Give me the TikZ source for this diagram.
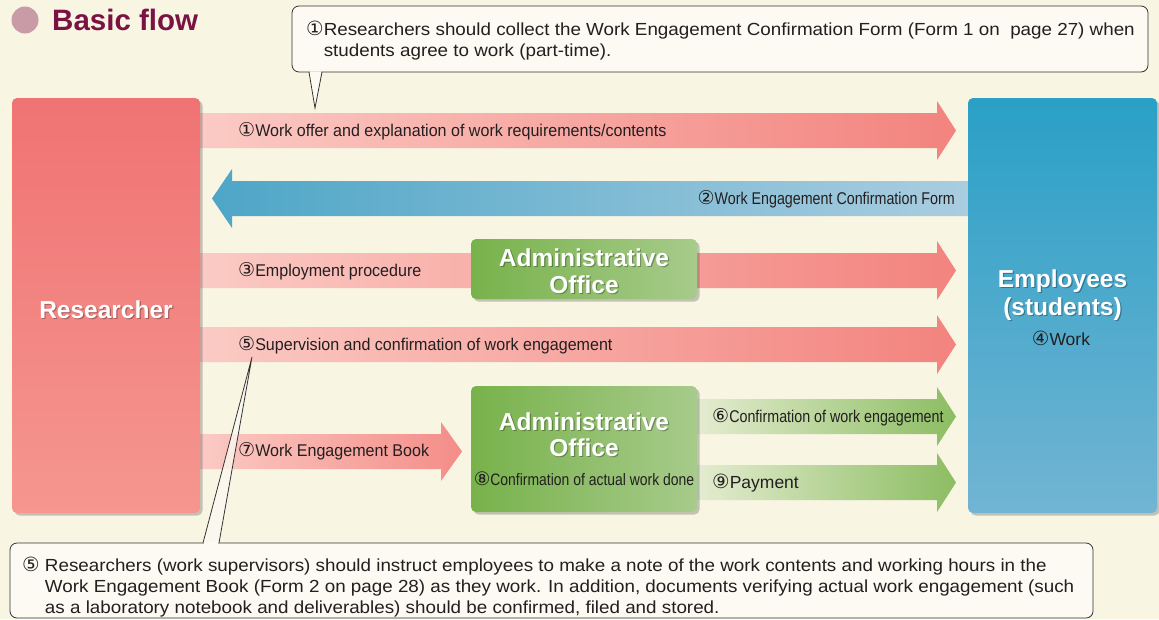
\documentclass[tikz,border=0pt]{standalone}
\usepackage{fontspec}
\setmainfont{Liberation Sans}
\newfontfamily\dvs{DejaVu Sans}
\newfontfamily\narrowA[FakeStretch=0.945]{Liberation Sans}
\newfontfamily\narrowB[FakeStretch=0.84]{Liberation Sans}
\newfontfamily\wideF[FakeStretch=1.075]{Liberation Sans}
\usetikzlibrary{shadows,calc}
\definecolor{bgcream}{HTML}{F8F5E3}
\definecolor{calfill}{HTML}{FCFAF2}
\definecolor{titlec}{HTML}{7B1244}
\definecolor{dotc}{HTML}{C89BA6}
\definecolor{resTop}{HTML}{F07373}
\definecolor{resBot}{HTML}{F5968F}
\definecolor{pinkL}{HTML}{FBCAC4}
\definecolor{pinkR}{HTML}{F3837E}
\definecolor{pinkR7}{HTML}{F48D88}
\definecolor{blueL}{HTML}{4EA6C7}
\definecolor{blueR}{HTML}{AACDE0}
\definecolor{empTop}{HTML}{2AA0C6}
\definecolor{empBot}{HTML}{72B4D3}
\definecolor{admL}{HTML}{78B24B}
\definecolor{admR}{HTML}{A7CB8B}
\definecolor{greenL}{HTML}{E4ECD0}
\definecolor{greenR}{HTML}{8CBD62}
\definecolor{txt}{HTML}{231F20}
\newcommand\cnum[1]{{\dvs\scalebox{1.12}{#1}}}
\newcommand\rarrow[6]{% x0, xtip, yc, headlen, leftcol, rightcol
  \shade[left color=#5,right color=#6] (#1,#3-17.5) -- (#2-#4,#3-17.5) -- (#2-#4,#3-29.5) -- (#2,#3) -- (#2-#4,#3+29.5) -- (#2-#4,#3+17.5) -- (#1,#3+17.5) -- cycle;}
\pgfdeclarelayer{bglayer}
\pgfdeclarelayer{arrowlayer}
\pgfsetlayers{bglayer,arrowlayer,main}
\tikzset{
  boxshadow/.style={drop shadow={shadow xshift=2.5pt, shadow yshift=-2.5pt, opacity=0.3, fill=black!70}},
  resbox/.style={rectangle, rounded corners=5pt, inner sep=0, minimum width=188pt, minimum height=415pt, top color=resTop, bottom color=resBot, boxshadow},
  empbox/.style={rectangle, rounded corners=5pt, inner sep=0, minimum width=189pt, minimum height=415pt, top color=empTop, bottom color=empBot, boxshadow},
  admbox/.style={rectangle, rounded corners=5pt, inner sep=0, minimum width=226pt, left color=admL, right color=admR, boxshadow},
  bigtext/.style={text=white, font=\fontsize{24.5}{28}\selectfont\bfseries, align=center, inner sep=0},
  bigshadow/.style={text=black, opacity=0.3, font=\fontsize{24.5}{28}\selectfont\bfseries, align=center, inner sep=0},
  admtext/.style={text=white, font=\fontsize{24.5}{26.5}\selectfont\bfseries, align=center, inner sep=0},
  admshadow/.style={text=black, opacity=0.3, font=\fontsize{24.5}{26.5}\selectfont\bfseries, align=center, inner sep=0},
  labA/.style={text=txt, font=\fontsize{17}{20}\selectfont\narrowA, inner sep=0},
  labB/.style={text=txt, font=\fontsize{17}{20}\selectfont\narrowB, inner sep=0},
  labC/.style={text=txt, font=\fontsize{17.5}{20}\selectfont, inner sep=0},
  callout/.style={rectangle, rounded corners=7pt, draw=black!80, line width=0.8pt, fill=calfill, inner sep=0},
  notetext/.style={text=txt, font=\fontsize{17.5}{21}\selectfont\wideF, align=left, inner sep=0},
}
\begin{document}
\begin{tikzpicture}[x=1pt,y=-1pt]
\useasboundingbox (0,0) rectangle (1159,619);
\begin{pgfonlayer}{bglayer}
\fill[bgcream] (0,0) rectangle (1159,619);
\end{pgfonlayer}

% title
\node[circle, fill=dotc, minimum size=27pt, inner sep=0] (dot) at (25,20) {};
\node[anchor=west, inner sep=0, text=titlec, font=\fontsize{29.5}{31}\selectfont\bfseries] (title) at (52,20) {Basic flow};

% main boxes
\node[resbox] (res) at (106,305.5) {};
\node[empbox] (emp) at (1062.5,305.5) {};
\node[admbox, minimum height=60pt] (adm1) at (584,269) {};
\node[admbox, minimum height=126pt] (adm2) at (584,449) {};

% arrows
\begin{pgfonlayer}{arrowlayer}
\rarrow{200}{956}{130.5}{19}{pinkL}{pinkR}
\shade[left color=blueL,right color=blueR] (968,181) -- (232,181) -- (232,169) -- (212,198.5) -- (232,228) -- (232,216) -- (968,216) -- cycle;
\rarrow{200}{956}{270.5}{19}{pinkL}{pinkR}
\rarrow{200}{956}{344.5}{19}{pinkL}{pinkR}
\rarrow{200}{462}{451.5}{21}{pinkL}{pinkR7}
\rarrow{697}{956}{416.5}{19}{greenL}{greenR}
\rarrow{697}{956}{482.5}{19}{greenL}{greenR}
\end{pgfonlayer}

% box texts
\node[bigshadow] at (107.2,311.2) {Researcher};
\node[bigtext] (restxt) at (106,310) {Researcher};
\node[bigshadow] at (1063.7,296.2) {Employees\\(students)};
\node[bigtext] (emptxt) at (1062.5,295) {Employees\\(students)};
\node[labC, anchor=center] (work) at (1061,338) {\cnum{④}Work};
\node[admshadow] at (585.2,272.2) {Administrative\\Office};
\node[admtext] (adm1txt) at (584,271) {Administrative\\Office};
\node[admshadow] at (585.2,435.7) {Administrative\\Office};
\node[admtext] (adm2txt) at (584,434.5) {Administrative\\Office};
\node[labB, anchor=center, font=\fontsize{16.6}{20}\selectfont\narrowB] (l8) at (584,479) {\cnum{⑧}Confirmation of actual work done};

% arrow labels
\node[labA, anchor=west] (l1) at (238,131) {\cnum{①}Work offer and explanation of work requirements/contents};
\node[labB, anchor=east] (l2) at (955,199) {\cnum{②}Work Engagement Confirmation Form};
\node[labA, anchor=west] (l3) at (238,271) {\cnum{③}Employment procedure};
\node[labA, anchor=west] (l5) at (238,345) {\cnum{⑤}Supervision and confirmation of work engagement};
\node[labA, anchor=west] (l7) at (238,451) {\cnum{⑦}Work Engagement Book};
\node[labB, anchor=west] (l6) at (712,417) {\cnum{⑥}Confirmation of work engagement};
\node[labC, anchor=west] (l9) at (712,483) {\cnum{⑨}Payment};

% top callout
\node[callout, minimum width=856pt, minimum height=66pt] (note1) at (720,39) {};
\coordinate (t1a) at (309,72);
\coordinate (t1b) at (322,72);
\coordinate (t1tip) at (315,108);
\fill[calfill] ($(t1a)+(0.5,-0.6)$) -- (t1tip) -- ($(t1b)+(-0.5,-0.6)$) -- cycle;
\draw[draw=black!80, line width=0.8pt] (t1a) -- (t1tip) -- (t1b);
\node[notetext, anchor=west] (note1txt) at (306,41) {\cnum{①}Researchers should collect the Work Engagement Confirmation Form (Form 1 on~ page 27) when\\\hphantom{\cnum{①}}students agree to work (part-time).};

% bottom callout
\node[callout, minimum width=1083pt, minimum height=75pt] (note2) at (551.5,580.5) {};
\coordinate (t2a) at (203,543);
\coordinate (t2b) at (219,543);
\coordinate (t2tip) at (252,357);
\fill[calfill, fill opacity=0.75] (t2a) -- (t2tip) -- (t2b) -- cycle;
\fill[calfill] ($(t2a)+(0.6,-0.6)$) -- ($(t2a)+(0.6,0.6)$) -- ($(t2b)+(-0.6,0.6)$) -- ($(t2b)+(-0.6,-0.6)$) -- cycle;
\draw[draw=black!80, line width=0.8pt] (t2a) -- (t2tip) -- (t2b);
\node[notetext, anchor=north west] (note2txt) at (22,557) {\cnum{⑤} Researchers (work supervisors) should instruct employees to make a note of the work contents and working hours in the\\\hphantom{\cnum{⑤} }Work Engagement Book (Form 2 on page 28) as they work. In addition, documents verifying actual work engagement (such\\\hphantom{\cnum{⑤} }as a laboratory notebook and deliverables) should be confirmed, filed and stored.};
\end{tikzpicture}
\end{document}
